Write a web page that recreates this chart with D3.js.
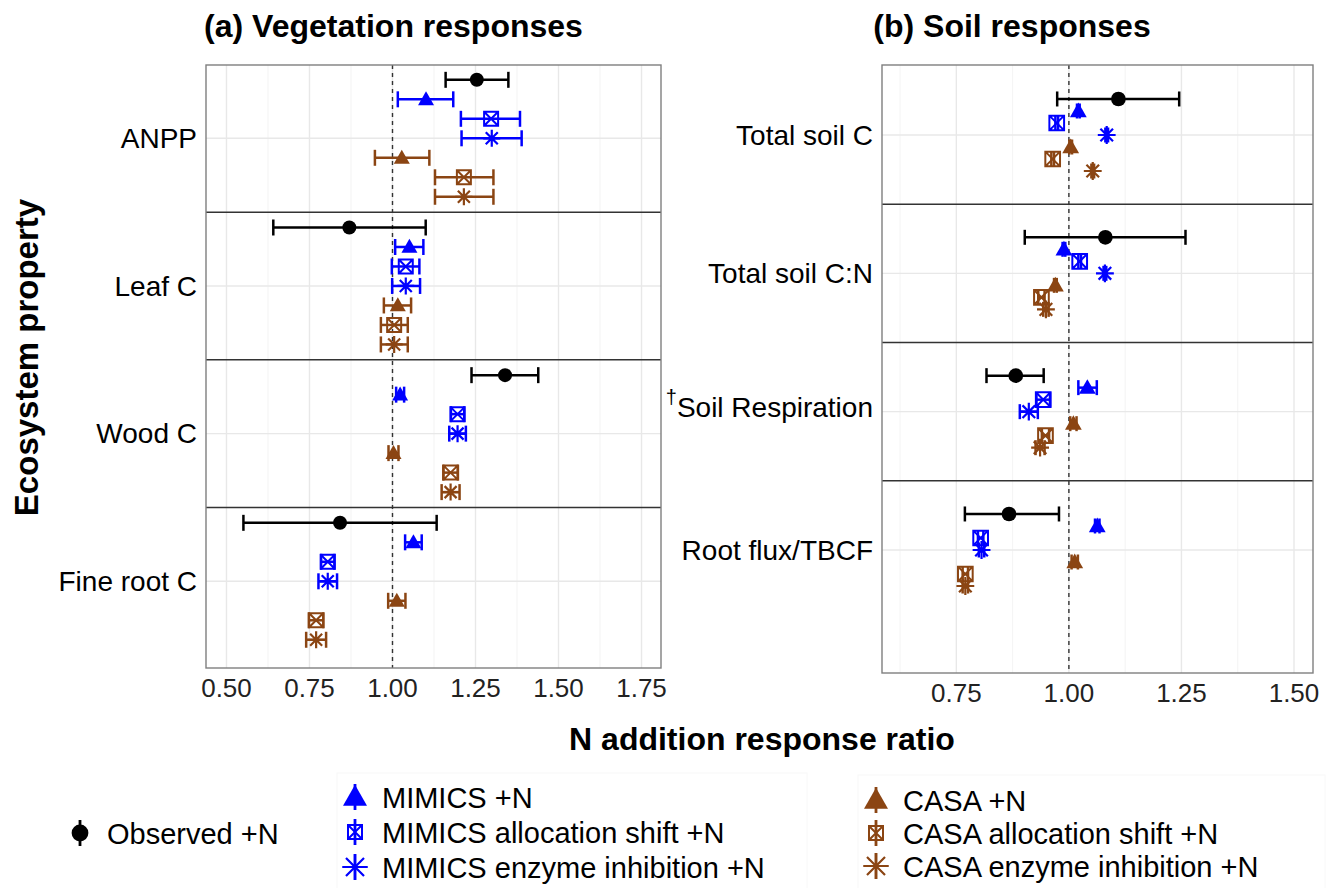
<!DOCTYPE html>
<html>
<head>
<meta charset="utf-8">
<script src="https://cdn.jsdelivr.net/npm/d3@7"></script>
<style>
body { margin: 0; background: #fff; }
text { font-family: "Liberation Sans", Arial, sans-serif; fill: #000; }
</style>
</head>
<body>
<script>
// categories, top to bottom
var vegCategories = ["ANPP", "Leaf C", "Wood C", "Fine root C"];
var soilCategories = ["Total soil C", "Total soil C:N", "Soil Respiration", "Root flux/TBCF"];

var seriesNames = ["Observed +N", "MIMICS +N", "MIMICS allocation shift +N", "MIMICS enzyme inhibition +N",
                   "CASA +N", "CASA allocation shift +N", "CASA enzyme inhibition +N"];
var seriesColors = ["#000000", "#0000ff", "#0000ff", "#0000ff", "#8b4513", "#8b4513", "#8b4513"];
var seriesShapes = ["circle", "triangle", "squarecross", "star", "triangle", "squarecross", "star"];

// [mean, lower, upper] per category
var vegObserved     = [[1.254, 1.160, 1.349], [0.870, 0.641, 1.100], [1.339, 1.238, 1.439], [0.842, 0.551, 1.133]];
var vegMimics       = [[1.101, 1.016, 1.183], [1.051, 1.008, 1.093], [1.023, 1.011, 1.035], [1.063, 1.038, 1.088]];
var vegMimicsAlloc  = [[1.297, 1.206, 1.384], [1.040, 0.998, 1.081], [1.196, 1.176, 1.216], [0.805, 0.785, 0.825]];
var vegMimicsEnz    = [[1.299, 1.208, 1.389], [1.040, 0.999, 1.083], [1.196, 1.171, 1.221], [0.805, 0.777, 0.833]];
var vegCasa         = [[1.028, 0.947, 1.111], [1.016, 0.974, 1.056], [1.003, 0.988, 1.018], [1.013, 0.987, 1.039]];
var vegCasaAlloc    = [[1.215, 1.128, 1.304], [1.005, 0.965, 1.046], [1.175, 1.153, 1.197], [0.770, 0.748, 0.792]];
var vegCasaEnz      = [[1.215, 1.128, 1.304], [1.005, 0.965, 1.046], [1.175, 1.148, 1.202], [0.770, 0.740, 0.800]];

var soilObserved    = [[1.110, 0.974, 1.245], [1.081, 0.902, 1.259], [0.882, 0.817, 0.944], [0.867, 0.769, 0.978]];
var soilMimics      = [[1.021, 1.018, 1.024], [0.989, 0.986, 0.992], [1.041, 1.021, 1.062], [1.063, 1.058, 1.068]];
var soilMimicsAlloc = [[0.973, 0.970, 0.976], [1.024, 1.021, 1.027], [0.943, 0.928, 0.958], [0.804, 0.798, 0.810]];
var soilMimicsEnz   = [[1.084, 1.081, 1.087], [1.080, 1.077, 1.083], [0.911, 0.891, 0.931], [0.806, 0.800, 0.812]];
var soilCasa        = [[1.004, 1.001, 1.007], [0.970, 0.967, 0.973], [1.010, 1.003, 1.017], [1.013, 1.006, 1.020]];
var soilCasaAlloc   = [[0.964, 0.961, 0.967], [0.939, 0.932, 0.946], [0.948, 0.940, 0.956], [0.770, 0.764, 0.776]];
var soilCasaEnz     = [[1.053, 1.050, 1.056], [0.949, 0.943, 0.955], [0.936, 0.926, 0.946], [0.770, 0.764, 0.776]];

var vegTicks = [0.50, 0.75, 1.00, 1.25, 1.50, 1.75];
var soilTicks = [0.75, 1.00, 1.25, 1.50];

var svg = d3.select("body").append("svg")
  .attr("width", 1337)
  .attr("height", 888);

function markPath(shape, s) {
  if (shape == "triangle") {
    var w = 16 * s, h = 14 * s;
    return "M0," + (-0.58 * h) + "L" + (w / 2) + "," + (0.42 * h) + "L" + (-w / 2) + "," + (0.42 * h) + "Z";
  }
  if (shape == "squarecross") {
    var a = 7 * s;
    return "M" + -a + "," + -a + "H" + a + "V" + a + "H" + -a + "Z" +
      "M" + -a + "," + -a + "L" + a + "," + a + "M" + a + "," + -a + "L" + -a + "," + a;
  }
  if (shape == "star") {
    var r = 8.5 * s, d = r * Math.SQRT1_2;
    return "M0," + -r + "V" + r + "M" + -r + ",0H" + r +
      "M" + -d + "," + -d + "L" + d + "," + d + "M" + d + "," + -d + "L" + -d + "," + d;
  }
}

function drawMark(g, shape, cx, cy, color, s) {
  if (shape == "circle") {
    g.append("circle").attr("cx", cx).attr("cy", cy).attr("r", 7 * s).attr("fill", color);
    return;
  }
  var p = g.append("path")
    .attr("d", markPath(shape, s))
    .attr("transform", "translate(" + cx + "," + cy + ")");
  if (shape == "triangle") {
    p.attr("fill", color);
  } else {
    p.attr("fill", "none").attr("stroke", color).attr("stroke-width", shape == "star" ? 2.2 : 2);
  }
}

function drawPanel(opt) {
  var x = d3.scaleLinear().domain(opt.xDomain).range([opt.left, opt.right]);
  var y = d3.scaleLinear().domain([0, opt.cats.length - 1]).range(opt.yRange);
  var g = svg.append("g");

  var minor = opt.ticks.map(function(t) { return t - 0.125; }).concat([opt.ticks[opt.ticks.length - 1] + 0.125])
    .filter(function(t) { return t > opt.xDomain[0] && t < opt.xDomain[1]; });

  g.selectAll(".minor").data(minor).enter().append("line")
    .attr("x1", function(d) { return x(d); }).attr("x2", function(d) { return x(d); })
    .attr("y1", opt.top).attr("y2", opt.bottom)
    .attr("stroke", "#f0f0f0").attr("stroke-width", 0.8);
  g.selectAll(".major").data(opt.ticks).enter().append("line")
    .attr("x1", function(d) { return x(d); }).attr("x2", function(d) { return x(d); })
    .attr("y1", opt.top).attr("y2", opt.bottom)
    .attr("stroke", "#e8e8e8").attr("stroke-width", 1.4);
  g.selectAll(".hgrid").data(opt.cats).enter().append("line")
    .attr("x1", opt.left).attr("x2", opt.right)
    .attr("y1", function(d, i) { return y(i); }).attr("y2", function(d, i) { return y(i); })
    .attr("stroke", "#e8e8e8").attr("stroke-width", 1.4);

  // separators between properties
  g.selectAll(".sep").data(opt.cats.slice(1)).enter().append("line")
    .attr("x1", opt.left).attr("x2", opt.right)
    .attr("y1", function(d, i) { return y(i + 0.5); }).attr("y2", function(d, i) { return y(i + 0.5); })
    .attr("stroke", "#333").attr("stroke-width", 1.5);

  g.append("line")
    .attr("x1", x(1)).attr("x2", x(1))
    .attr("y1", opt.top).attr("y2", opt.bottom)
    .attr("stroke", "#333").attr("stroke-width", 1.4)
    .attr("stroke-dasharray", "4,4");

  opt.series.forEach(function(arr, k) {
    var color = seriesColors[k];
    var off = (k - 3) * opt.dodge;
    arr.forEach(function(v, i) {
      var yy = y(i + off);
      g.append("line")
        .attr("x1", x(v[1])).attr("x2", x(v[2]))
        .attr("y1", yy).attr("y2", yy)
        .attr("stroke", color).attr("stroke-width", 2.5);
      [v[1], v[2]].forEach(function(e) {
        g.append("line")
          .attr("x1", x(e)).attr("x2", x(e))
          .attr("y1", yy - opt.cap).attr("y2", yy + opt.cap)
          .attr("stroke", color).attr("stroke-width", 2.5);
      });
      drawMark(g, seriesShapes[k], x(v[0]), yy, color, opt.markScale);
    });
  });

  g.append("rect")
    .attr("x", opt.left).attr("y", opt.top)
    .attr("width", opt.right - opt.left).attr("height", opt.bottom - opt.top)
    .attr("fill", "none").attr("stroke", "#7f7f7f").attr("stroke-width", 1.4);

  g.selectAll(".xlab").data(opt.ticks).enter().append("text")
    .attr("x", function(d) { return x(d); })
    .attr("y", opt.bottom + 29)
    .attr("text-anchor", "middle")
    .style("font-size", "26px")
    .style("fill", "#222")
    .text(function(d) { return d3.format(".2f")(d); });

  opt.cats.forEach(function(c, i) {
    var t = g.append("text")
      .attr("x", opt.left - 9)
      .attr("y", y(i) + 9.8)
      .attr("text-anchor", "end")
      .style("font-size", "28px");
    if (c == "Soil Respiration") {
      t.attr("y", y(i) + 5);
      t.append("tspan").attr("dy", -13).style("font-size", "20px").text("\u2020");
      t.append("tspan").attr("dy", 13).text(c);
    } else {
      t.text(c);
    }
  });
}

drawPanel({
  left: 206, right: 661, top: 65, bottom: 668,
  xDomain: [0.4383, 1.8087], yRange: [138.3, 581.3],
  ticks: vegTicks, cats: vegCategories,
  dodge: 0.132, cap: 8, markScale: 1,
  series: [vegObserved, vegMimics, vegMimicsAlloc, vegMimicsEnz, vegCasa, vegCasaAlloc, vegCasaEnz]
});

drawPanel({
  left: 882, right: 1313, top: 65, bottom: 673,
  xDomain: [0.5849, 1.5422], yRange: [135, 550],
  ticks: soilTicks, cats: soilCategories,
  dodge: 0.0868, cap: 7.5, markScale: 1.05,
  series: [soilObserved, soilMimics, soilMimicsAlloc, soilMimicsEnz, soilCasa, soilCasaAlloc, soilCasaEnz]
});

// titles
svg.append("text").attr("x", 393.5).attr("y", 37).attr("text-anchor", "middle")
  .style("font-size", "32px").style("font-weight", "bold").text("(a) Vegetation responses");
svg.append("text").attr("x", 1012).attr("y", 37).attr("text-anchor", "middle")
  .style("font-size", "32px").style("font-weight", "bold").text("(b) Soil responses");
svg.append("text").attr("transform", "translate(38,357.5) rotate(-90)").attr("text-anchor", "middle")
  .style("font-size", "33px").style("font-weight", "bold").text("Ecosystem property");
svg.append("text").attr("x", 762).attr("y", 750).attr("text-anchor", "middle")
  .style("font-size", "32px").style("font-weight", "bold").text("N addition response ratio");

// legends
var legend = svg.append("g");
legend.append("rect").attr("x", 337).attr("y", 773).attr("width", 470).attr("height", 118)
  .attr("fill", "none").attr("stroke", "#f8f8f8");
legend.append("rect").attr("x", 858).attr("y", 775).attr("width", 467).attr("height", 118)
  .attr("fill", "none").attr("stroke", "#f8f8f8");

var legendRows = [
  {k: 0, x: 80, y: 833},
  {k: 1, x: 355, y: 797}, {k: 2, x: 355, y: 832}, {k: 3, x: 355, y: 867},
  {k: 4, x: 876, y: 800}, {k: 5, x: 876, y: 833}, {k: 6, x: 876, y: 866}
];
legendRows.forEach(function(r) {
  var color = seriesColors[r.k];
  var shape = seriesShapes[r.k];
  legend.append("line")
    .attr("x1", r.x).attr("x2", r.x).attr("y1", r.y - 13).attr("y2", r.y + 13)
    .attr("stroke", color).attr("stroke-width", 2.8);
  var s = shape == "squarecross" ? 1.0 : shape == "circle" ? 1.2 : 1.5;
  drawMark(legend, shape, r.x, r.y, color, s);
  legend.append("text")
    .attr("x", r.x + 27).attr("y", r.y + 10.5)
    .style("font-size", "29px")
    .text(seriesNames[r.k]);
});
</script>
</body>
</html>
